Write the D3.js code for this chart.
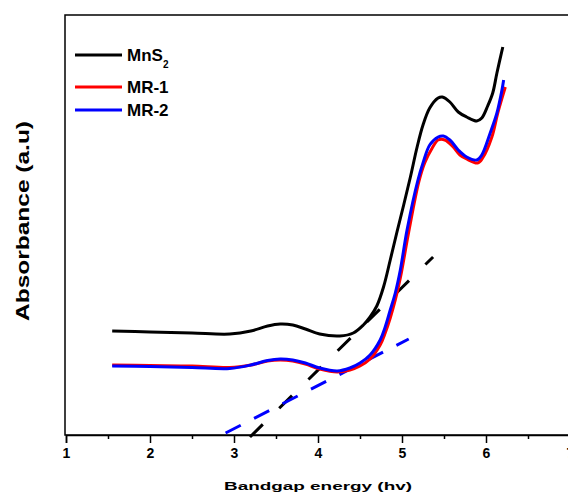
<!DOCTYPE html>
<html>
<head>
<meta charset="utf-8">
<script src="https://cdn.jsdelivr.net/npm/d3@7"></script>
<style>
  html, body { margin: 0; padding: 0; background: #fff; }
  svg { display: block; }
  text { font-family: "Liberation Sans", Arial, sans-serif; font-weight: bold; }
</style>
</head>
<body>
<svg id="chart" width="568" height="492"></svg>
<script>
// ---------- data ----------
const seriesNames = ["MnS2", "MR-1", "MR-2"];
const seriesColors = ["#000000", "#ff0000", "#0000ff"];

const mns2Hv = [1.55, 2.00, 2.50, 2.95, 3.20, 3.40, 3.55, 3.70, 3.85, 4.02, 4.26, 4.42, 4.54, 4.62, 4.70, 4.78, 4.86, 4.94, 5.02, 5.10, 5.18, 5.25, 5.33, 5.43, 5.48, 5.57, 5.67, 5.77, 5.89, 5.95, 6.02, 6.08, 6.13, 6.20];
const mns2Abs = [1.04, 1.03, 1.02, 1.01, 1.04, 1.09, 1.11, 1.10, 1.06, 1.01, 0.99, 1.02, 1.10, 1.18, 1.29, 1.48, 1.75, 2.03, 2.30, 2.58, 2.88, 3.10, 3.27, 3.37, 3.38, 3.33, 3.23, 3.18, 3.14, 3.17, 3.29, 3.42, 3.62, 3.88];

const mr1Hv = [1.55, 2.00, 2.50, 2.95, 3.20, 3.40, 3.55, 3.70, 3.85, 4.02, 4.23, 4.38, 4.50, 4.62, 4.74, 4.80, 4.86, 4.92, 4.98, 5.08, 5.20, 5.27, 5.36, 5.43, 5.51, 5.61, 5.69, 5.77, 5.90, 5.96, 6.07, 6.14, 6.23];
const mr1Abs = [0.70, 0.695, 0.69, 0.675, 0.70, 0.74, 0.75, 0.74, 0.71, 0.66, 0.63, 0.65, 0.69, 0.76, 0.90, 1.02, 1.17, 1.35, 1.57, 2.03, 2.53, 2.72, 2.87, 2.95, 2.95, 2.88, 2.80, 2.76, 2.72, 2.77, 2.98, 3.22, 3.48];

const mr2Hv = [1.55, 2.00, 2.50, 2.95, 3.20, 3.40, 3.55, 3.70, 3.85, 4.02, 4.23, 4.38, 4.50, 4.62, 4.74, 4.80, 4.86, 4.92, 4.98, 5.06, 5.19, 5.25, 5.33, 5.43, 5.49, 5.57, 5.67, 5.77, 5.89, 5.95, 6.05, 6.13, 6.19, 6.21];
const mr2Abs = [0.69, 0.685, 0.675, 0.665, 0.70, 0.745, 0.76, 0.75, 0.72, 0.67, 0.64, 0.67, 0.72, 0.80, 0.95, 1.08, 1.25, 1.42, 1.65, 2.05, 2.55, 2.72, 2.90, 2.98, 2.99, 2.95, 2.85, 2.78, 2.75, 2.80, 3.02, 3.22, 3.45, 3.55];

// tangent (Tauc-type extrapolation) lines: [hv, abs] end points
const tangentMnS2 = [[3.19, -0.02], [5.37, 1.78]];
const tangentMR2 = [[2.90, 0.02], [5.08, 0.96]];

const xTicks = [1, 2, 3, 4, 5, 6, 7];
const xMinorTicks = [1.5, 2.5, 3.5, 4.5, 5.5, 6.5];
const xTitle = "Bandgap energy (hv)";
const yTitle = "Absorbance (a.u)";

// ---------- chart ----------
const svg = d3.select("#chart");
const mLeft = 65, mRight = 570, mTop = 15, mBottom = 435;

const x = d3.scaleLinear().domain([1, 7]).range([mLeft + 1, mRight]);
const y = d3.scaleLinear().domain([0, 4.2]).range([mBottom, mTop]);

// frame
svg.append("rect")
  .attr("x", mLeft).attr("y", mTop)
  .attr("width", mRight - mLeft).attr("height", mBottom - mTop)
  .attr("fill", "none").attr("stroke", "#000").attr("stroke-width", 1.5);

// x axis
const xAxis = d3.axisBottom(x).tickValues(xTicks).tickFormat(d3.format("d")).tickSize(8).tickPadding(5);
const gx = svg.append("g").attr("transform", `translate(0,${mBottom})`).call(xAxis);
gx.select(".domain").attr("stroke-width", 1.5);
gx.selectAll(".tick line").attr("stroke-width", 1.5);
gx.selectAll(".tick text").attr("font-size", 14).attr("font-weight", "bold")
  .attr("font-family", "'Liberation Sans', Arial, sans-serif").attr("fill", "#000");

const xMinor = d3.axisBottom(x).tickValues(xMinorTicks).tickFormat("").tickSize(4);
const gxm = svg.append("g").attr("transform", `translate(0,${mBottom})`).call(xMinor);
gxm.select(".domain").remove();
gxm.selectAll(".tick line").attr("stroke-width", 1.5);

// axis titles
svg.append("text")
  .attr("x", 318).attr("y", 490)
  .attr("text-anchor", "middle")
  .attr("font-size", 11)
  .attr("textLength", 188).attr("lengthAdjust", "spacingAndGlyphs")
  .text(xTitle);

svg.append("text")
  .attr("transform", "translate(29,221) rotate(-90)")
  .attr("text-anchor", "middle")
  .attr("font-size", 18)
  .attr("textLength", 200).attr("lengthAdjust", "spacingAndGlyphs")
  .text(yTitle);

// tangent lines
const line = d3.line().x(d => x(d[0])).y(d => y(d[1]));
svg.append("path").datum(tangentMnS2).attr("d", line)
  .attr("fill", "none").attr("stroke", "#000").attr("stroke-width", 3)
  .attr("stroke-dasharray", "18,23");
svg.append("path").datum(tangentMR2).attr("d", line)
  .attr("fill", "none").attr("stroke", "#0000ff").attr("stroke-width", 3)
  .attr("stroke-dasharray", "17,15");

// curves
const curve = d3.line().x(d => x(d[0])).y(d => y(d[1])).curve(d3.curveCatmullRom.alpha(0.5));
const series = [
  d3.zip(mns2Hv, mns2Abs),
  d3.zip(mr1Hv, mr1Abs),
  d3.zip(mr2Hv, mr2Abs)
];
series.forEach((s, i) => {
  svg.append("path").datum(s).attr("d", curve)
    .attr("fill", "none").attr("stroke", seriesColors[i])
    .attr("stroke-width", 3).attr("stroke-linejoin", "round");
});

// legend
const legendY = [55, 87, 110];
seriesNames.forEach((name, i) => {
  svg.append("line")
    .attr("x1", 75).attr("x2", 122)
    .attr("y1", legendY[i]).attr("y2", legendY[i])
    .attr("stroke", seriesColors[i]).attr("stroke-width", 3);
  const t = svg.append("text")
    .attr("x", 127).attr("y", legendY[i] + 6)
    .attr("font-size", 17).attr("fill", "#000");
  if (name === "MnS2") {
    t.append("tspan").text("MnS");
    t.append("tspan").attr("font-size", 10).attr("dy", 7).text("2");
  } else {
    t.text(name);
  }
});
</script>
</body>
</html>
